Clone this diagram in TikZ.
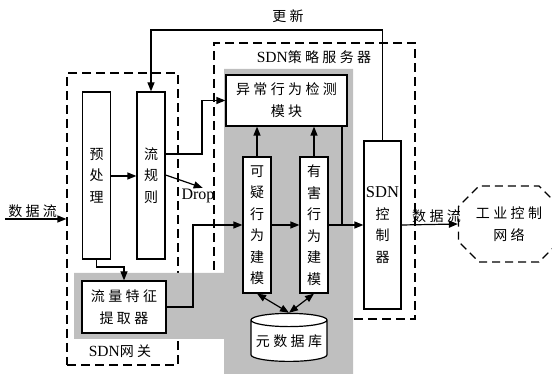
\documentclass[tikz,border=0pt]{standalone}
\usepackage{fontspec}
\setmainfont{Liberation Serif}
\newfontfamily\cjk[LetterSpace=24]{Noto Sans CJK SC}
\newfontfamily\cjkv{Noto Sans CJK SC}
\usetikzlibrary{arrows.meta,positioning,shapes.geometric,shapes.misc}

\begin{document}
\begin{tikzpicture}[
  x=1pt, y=-1pt,
  box/.style={draw, fill=white, line width=1.2pt, inner sep=0pt, align=center, font=\cjk\fontsize{14}{22}\selectfont},
  vbox/.style={box, minimum width=28pt, font=\cjkv\fontsize{14}{21.5}\selectfont},
  zone/.style={draw, dash pattern=on 9pt off 5pt, line width=1.2pt, inner sep=0pt},
  lbl/.style={inner sep=1pt, font=\cjk\fontsize{14}{16}\selectfont},
  arrow/.style={-{Triangle[length=9pt,width=7pt]}, line width=1.2pt},
  biarrow/.style={{Triangle[length=9pt,width=7pt]}-{Triangle[length=9pt,width=7pt]}, line width=1.2pt},
  link/.style={line width=1.2pt}
]
\useasboundingbox (0,0) rectangle (552,374);

% 虚线区域
\node[zone, minimum width=111pt, minimum height=292pt] (gw) at (122.5,219) {};
\node[zone, minimum width=201pt, minimum height=276pt] (srv) at (314.5,181) {};
\node[lbl] (gwlbl) at (120,351) {{\rmfamily\fontsize{15.5}{16}\selectfont SDN}网关};
\node[lbl] (srvlbl) at (314,57) {{\rmfamily\fontsize{15.5}{16}\selectfont SDN}策略服务器};

% 灰色背景
\fill[black!25] (74,273) -- (224,273) -- (224,69) -- (353,69) -- (353,374)
  -- (224,374) -- (224,339) -- (74,339) -- cycle;

% SDN网关内部
\node[vbox, minimum height=167pt] (pre) at (96.5,175.5) {预\\处\\理};
\node[vbox, minimum height=167pt] (rule) at (151,175.5) {流\\规\\则};
\node[box, minimum width=84pt, minimum height=52pt] (ext) at (124,307) {流量特征\\提取器};
\node[inner sep=1pt, font=\fontsize{16}{17}\selectfont] (drop) at (198,196) {Drop};

% 策略服务器内部
\node[box, minimum width=121pt, minimum height=51pt] (mod) at (286.5,100.5) {异常行为检测\\模块};
\node[vbox, minimum height=136pt] (sus) at (257,225) {可\\疑\\行\\为\\建\\模};
\node[vbox, minimum height=136pt] (harm) at (314,225) {有\\害\\行\\为\\建\\模};
\node[draw, fill=white, line width=1.2pt, cylinder, shape border rotate=90, aspect=0.2,
  minimum width=76pt, minimum height=48pt, inner sep=0pt, font=\cjk\fontsize{14}{16}\selectfont] (db) at (289,341) {元数据库};
\node[vbox, minimum width=37pt, minimum height=168pt] (ctrl) at (382.5,225)
  {{\rmfamily\fontsize{16.5}{17}\selectfont SDN}\\控\\制\\器};

% 工业控制网络
\node[draw, dash pattern=on 8pt off 5pt, line width=1.2pt, chamfered rectangle,
  chamfered rectangle xsep=21pt, minimum width=86pt, minimum height=76pt,
  inner sep=0pt, align=center, font=\cjk\fontsize{14}{22}\selectfont] (net) at (509,224) {工业控制\\网络};

% 连线
\coordinate (in) at (5,219);
\draw[arrow] (in) -- node[lbl, above, pos=0.45] {数据流} (gw.west |- in);
\draw[arrow] (pre.east |- 0,176) -- (rule.west |- 0,176);
\draw[arrow] (rule.east |- 0,154) -| (202,100.5) -- (mod.west);
\draw[arrow] (rule.east |- 0,175) -- (drop.60);
\draw[arrow] (pre.south) -- (pre.south |- 0,267) -| (ext.north);
\draw[arrow] (ext.east) -| (193,225) -- (sus.west);
\draw[arrow] (sus.east) -- (harm.west);
\draw[arrow] (sus.north) -- (sus.north |- mod.south);
\draw[arrow] (harm.north) -- (harm.north |- mod.south);
\draw[link] (mod.south -| 342,0) -- (342,225);
\draw[arrow] (harm.east) -- (ctrl.west);
\draw[biarrow] (sus.south) -- (db.north);
\draw[biarrow] (harm.south) -- (db.north);
\draw[arrow] (ctrl.north) -- (ctrl.north |- 0,30) -| (rule.north);
\node[lbl] (upd) at (288,16) {更新};
\draw[arrow] (ctrl.east) -- node[lbl, above, pos=0.62] {数据流} (net.west);

\end{tikzpicture}
\end{document}
